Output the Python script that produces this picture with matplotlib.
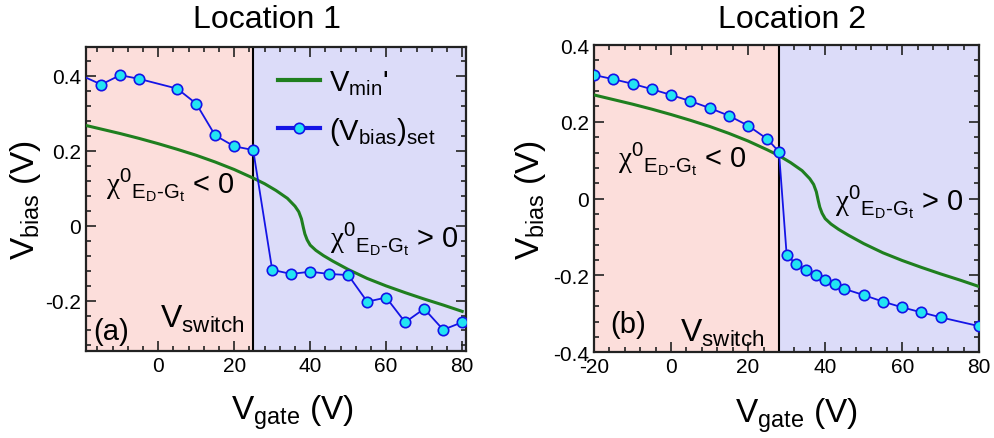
import matplotlib
matplotlib.use("Agg")
import matplotlib.pyplot as plt
from matplotlib.ticker import MultipleLocator, FuncFormatter

plt.rcParams['font.family'] = ['Liberation Sans', 'DejaVu Sans']
plt.rcParams['mathtext.fontset'] = 'custom'
plt.rcParams['mathtext.rm'] = 'Liberation Sans'
plt.rcParams['mathtext.it'] = 'Liberation Sans'
plt.rcParams['mathtext.sf'] = 'Liberation Serif'
plt.rcParams['mathtext.default'] = 'regular'

# V_min' curve (same in both panels)
vmin_x = [-20, -15, -10, -5, 0, 5, 10, 15, 20, 25, 28, 31, 34, 36, 37, 37.7, 38.2,
          38.6, 39.2, 40, 41.5, 43.5, 46, 50, 55, 60, 65, 70, 75, 80]
vmin_y = [0.270, 0.258, 0.246, 0.233, 0.219, 0.204, 0.188, 0.170, 0.150, 0.127,
          0.112, 0.094, 0.073, 0.052, 0.037, 0.018, -0.005, -0.022, -0.038, -0.052,
          -0.066, -0.080, -0.095, -0.117, -0.141, -0.161, -0.179, -0.196, -0.212, -0.229]

# location 1 (V_bias)_set
loc1_x = [-20, -15, -10, -5, 5, 10, 15, 20, 25, 30, 35, 40, 45, 50, 55, 60, 65, 70, 75, 80]
loc1_y = [0.400, 0.377, 0.402, 0.392, 0.366, 0.326, 0.241, 0.212, 0.202, -0.118,
          -0.129, -0.123, -0.129, -0.132, -0.203, -0.192, -0.258, -0.222, -0.278, -0.258]
vswitch1 = 25

# location 2 (V_bias)_set
loc2_x = [-20, -15, -10, -5, 0, 5, 10, 15, 20, 25, 28, 30, 32.5, 35, 37.5, 40, 42.5,
          45, 50, 55, 60, 65, 70, 80]
loc2_y = [0.322, 0.311, 0.299, 0.285, 0.270, 0.254, 0.236, 0.216, 0.190, 0.155, 0.122,
          -0.146, -0.171, -0.186, -0.200, -0.212, -0.223, -0.235, -0.251, -0.268,
          -0.283, -0.296, -0.309, -0.332]
vswitch2 = 28

pink = '#fcdedb'
lavender = '#dcdcf9'
green = '#1f7f1f'
blue = '#1414e6'
cyan = '#22e4f2'

fig = plt.figure(figsize=(9.94, 4.39), dpi=100)
ax1 = fig.add_axes([0.0865, 0.198, 0.3823, 0.6925])
ax2 = fig.add_axes([0.5976, 0.1952, 0.3876, 0.700])

fmt = FuncFormatter(lambda v, p: '%g' % round(v, 3))


def setup(ax, xlim, ylim, xmaj, ymaj, vs):
    ax.set_xlim(*xlim)
    ax.set_ylim(*ylim)
    ax.axvspan(xlim[0], vs, color=pink, zorder=0, lw=0)
    ax.axvspan(vs, xlim[1], color=lavender, zorder=0, lw=0)
    ax.axvline(vs, color='black', lw=1.5, zorder=2)
    ax.xaxis.set_major_locator(MultipleLocator(xmaj))
    ax.xaxis.set_minor_locator(MultipleLocator(4))
    ax.yaxis.set_major_locator(MultipleLocator(ymaj))
    ax.yaxis.set_minor_locator(MultipleLocator(0.04))
    ax.xaxis.set_major_formatter(fmt)
    ax.yaxis.set_major_formatter(fmt)
    ax.tick_params(which='both', direction='in', top=True, right=True,
                   labelsize=15, width=1.2, color='#222222')
    ax.tick_params(which='major', length=7)
    ax.tick_params(which='minor', length=3.5)
    for s in ax.spines.values():
        s.set_linewidth(1.6)
        s.set_color('#222222')
    ax.set_xlabel(r'$V_{gate}$ (V)', fontsize=24)
    ax.set_ylabel(r'$V_{bias}$ (V)', fontsize=24)


setup(ax1, (-19, 81), (-0.335, 0.477), 20, 0.2, vswitch1)
setup(ax2, (-20, 80), (-0.4, 0.4), 20, 0.2, vswitch2)

ax1.plot(vmin_x, vmin_y, color=green, lw=2.2, zorder=3, label="$V_{min}$'")
ax1.plot(loc1_x, loc1_y, color=blue, lw=1.3, marker='o', markersize=7.5,
         markerfacecolor=cyan, markeredgecolor=blue, markeredgewidth=1.2,
         markevery=list(range(1, len(loc1_x))), zorder=4, label='$(V_{bias})_{set}$')
ax2.plot(vmin_x, vmin_y, color=green, lw=2.2, zorder=3)
ax2.plot(loc2_x, loc2_y, color=blue, lw=1.3, marker='o', markersize=7.5,
         markerfacecolor=cyan, markeredgecolor=blue, markeredgewidth=1.2, zorder=4)

leg = ax1.legend(loc='upper left', bbox_to_anchor=(0.452, 0.997), frameon=False,
                 fontsize=21, handlelength=1.45, handletextpad=0.3, labelspacing=0.6,
                 borderpad=0.2)
for h in leg.legend_handles:
    h.set_linewidth(3)

ax1.xaxis.set_label_coords(0.542, -0.135)
ax1.yaxis.set_label_coords(-0.113, 0.5)
ax2.xaxis.set_label_coords(0.526, -0.142)
ax2.yaxis.set_label_coords(-0.119, 0.5)

chi_lt = r'$\mathsf{\chi}^{0}{}_{E_{D}\text{-}G_{t}}$ < 0'
chi_gt = r'$\mathsf{\chi}^{0}{}_{E_{D}\text{-}G_{t}}$ > 0'
ax1.text(0.053, 0.52, chi_lt, transform=ax1.transAxes, fontsize=21, va='baseline')
ax1.text(0.642, 0.342, chi_gt, transform=ax1.transAxes, fontsize=21, va='baseline')
ax1.text(0.018, 0.04, '(a)', transform=ax1.transAxes, fontsize=21, va='baseline')
ax1.text(0.195, 0.078, r'$V_{switch}$', transform=ax1.transAxes, fontsize=23, va='baseline')

ax2.text(0.062, 0.603, chi_lt, transform=ax2.transAxes, fontsize=21, va='baseline')
ax2.text(0.626, 0.463, chi_gt, transform=ax2.transAxes, fontsize=21, va='baseline')
ax2.text(0.042, 0.066, '(b)', transform=ax2.transAxes, fontsize=21, va='baseline')
ax2.text(0.223, 0.038, r'$V_{switch}$', transform=ax2.transAxes, fontsize=23, va='baseline')

fig.text(266.7 / 994, 1 - 20 / 439, 'Location 1', fontsize=23, ha='center', va='center')
fig.text(792 / 994, 1 - 20 / 439, 'Location 2', fontsize=23, ha='center', va='center')

fig.savefig('out.png', dpi=100)
